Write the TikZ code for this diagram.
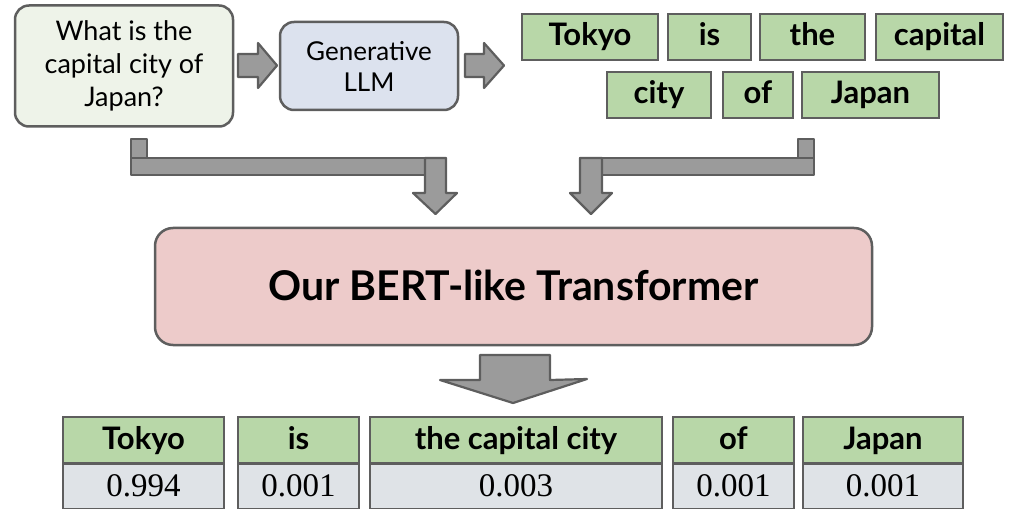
\documentclass[tikz,border=0pt]{standalone}
\usepackage{fontspec}
\setmainfont{Lato}
\newfontfamily\numfont{Liberation Serif}
\definecolor{bordergray}{HTML}{5E5E5E}
\definecolor{arrowfill}{HTML}{9B9B9B}
\definecolor{qfill}{HTML}{EEF3E9}
\definecolor{llmfill}{HTML}{DCE2EE}
\definecolor{tokgreen}{HTML}{B8D7A8}
\definecolor{pinkfill}{HTML}{EDCBCA}
\definecolor{valgray}{HTML}{DFE3E7}
\begin{document}
\begin{tikzpicture}[x=1pt,y=-1pt,
  roundbox/.style={draw=bordergray, line width=2.5pt, rounded corners=14pt, align=center, inner sep=0pt},
  qbox/.style={roundbox, fill=qfill, font=\fontsize{27}{33}\selectfont},
  llmbox/.style={roundbox, fill=llmfill, font=\fontsize{26}{31}\selectfont},
  bertbox/.style={roundbox, rounded corners=18pt, fill=pinkfill, font=\bfseries\fontsize{41}{44}\selectfont, text height=29pt, text depth=1pt},
  tok/.style={draw=bordergray, line width=1.4pt, fill=tokgreen, inner sep=0pt, font=\bfseries\fontsize{31}{33}\selectfont, text height=22pt, text depth=4pt},
  val/.style={draw=bordergray, line width=1.4pt, fill=valgray, inner sep=0pt, font=\numfont\fontsize{33}{35}\selectfont, text height=22pt, text depth=1pt},
  fatarrow/.style={draw=bordergray, fill=arrowfill, line width=2.2pt, line join=round}
]
\useasboundingbox (0,0) rectangle (1024,518);

% top boxes
\node[qbox, minimum width=218pt, minimum height=121pt] (q) at (124,66) {What is the\\capital city of\\Japan?};
\node[llmbox, minimum width=178pt, minimum height=88pt] (llm) at (369,66) {Generative\\LLM};

% right fat arrows
\draw[fatarrow] (238,54) -- (258,54) -- (258,43) -- (277,65.5) -- (258,88) -- (258,77) -- (238,77) -- cycle;
\draw[fatarrow] (465,54) -- (484,54) -- (484,43) -- (504,65.5) -- (484,88) -- (484,77) -- (465,77) -- cycle;

% generated tokens
\node[tok, minimum width=136pt, minimum height=46pt] (t1) at (590,37) {Tokyo};
\node[tok, minimum width=83pt, minimum height=46pt] (t2) at (709.5,37) {is};
\node[tok, minimum width=105pt, minimum height=46pt] (t3) at (812.5,37) {the};
\node[tok, minimum width=127pt, minimum height=46pt] (t4) at (939.5,37) {capital};
\node[tok, minimum width=104pt, minimum height=46pt] (t5) at (659,95) {city};
\node[tok, minimum width=70pt, minimum height=46pt] (t6) at (758,95) {of};
\node[tok, minimum width=137pt, minimum height=46pt] (t7) at (870.5,95) {Japan};

% left elbow arrow
\draw[fatarrow] (131,139) rectangle (147,158);
\draw[fatarrow] (131,158) rectangle (446,175);
\draw[fatarrow] (425,158) -- (446,158) -- (446,193) -- (457,193) -- (435.5,214) -- (413,193) -- (425,193) -- cycle;

% right elbow arrow
\draw[fatarrow] (798,139) rectangle (814,158);
\draw[fatarrow] (580,158) rectangle (814,175);
\draw[fatarrow] (580,158) -- (602,158) -- (602,193) -- (612,193) -- (591,214) -- (570,193) -- (580,193) -- cycle;

% BERT box
\node[bertbox, minimum width=717pt, minimum height=117pt] (bert) at (513.5,286.5) {Our BERT-like Transformer};

% bottom arrow
\draw[fatarrow] (480,355) -- (550,355) -- (550,380) -- (587,379) -- (513,403) -- (440,380) -- (480,380) -- cycle;

% output table
\node[tok, minimum width=161pt, minimum height=46pt] (h1) at (143.5,440) {Tokyo};
\node[val, minimum width=161pt, minimum height=44pt, anchor=north] (v1) at (h1.south) {0.994};
\node[tok, minimum width=121pt, minimum height=46pt] (h2) at (298.5,440) {is};
\node[val, minimum width=121pt, minimum height=44pt, anchor=north] (v2) at (h2.south) {0.001};
\node[tok, minimum width=292pt, minimum height=46pt] (h3) at (516,440) {the capital city};
\node[val, minimum width=292pt, minimum height=44pt, anchor=north] (v3) at (h3.south) {0.003};
\node[tok, minimum width=121pt, minimum height=46pt] (h4) at (733.5,440) {of};
\node[val, minimum width=121pt, minimum height=44pt, anchor=north] (v4) at (h4.south) {0.001};
\node[tok, minimum width=160pt, minimum height=46pt] (h5) at (883,440) {Japan};
\node[val, minimum width=160pt, minimum height=44pt, anchor=north] (v5) at (h5.south) {0.001};
\end{tikzpicture}
\end{document}
